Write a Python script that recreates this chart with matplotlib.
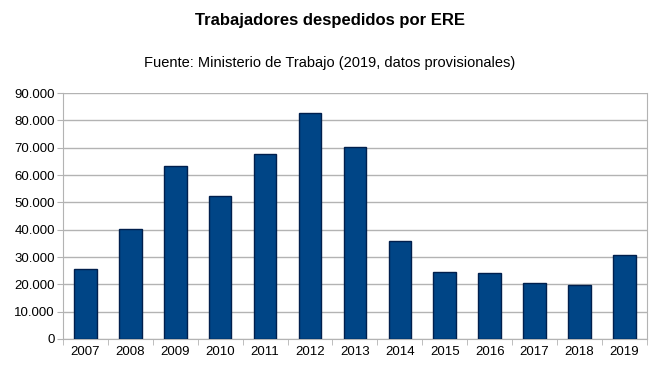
import matplotlib
matplotlib.use("Agg")
import matplotlib.pyplot as plt
from matplotlib.ticker import FuncFormatter, FixedLocator
import numpy as np

plt.rcParams['font.family'] = ['Liberation Sans', 'DejaVu Sans']

years = ['2007', '2008', '2009', '2010', '2011', '2012', '2013',
         '2014', '2015', '2016', '2017', '2018', '2019']
despedidos = [25600, 40400, 63300, 52400, 67800, 82800, 70300,
              35700, 24400, 24300, 20600, 19900, 30700]

title = 'Trabajadores despedidos por ERE'
subtitle = 'Fuente: Ministerio de Trabajo (2019, datos provisionales)'

fig = plt.figure(figsize=(6.6, 3.71), dpi=100)
ax = fig.add_axes([0.0955, 0.0863, 0.8845, 0.6627])

x = np.arange(len(years))
ax.bar(x, despedidos, width=0.5, color='#004586', edgecolor='#001f4d',
       linewidth=1, zorder=3)

ax.set_xlim(-0.5, len(years) - 0.5)
ax.set_ylim(0, 90000)
ax.set_yticks(np.arange(0, 90001, 10000))
ax.yaxis.set_major_formatter(FuncFormatter(lambda v, p: f'{int(v):,}'.replace(',', '.')))
ax.set_xticks(x)
ax.set_xticklabels(years)
ax.xaxis.set_minor_locator(FixedLocator(np.arange(-0.5, len(years), 1)))

ax.grid(axis='y', color='#b3b3b3', linewidth=1, zorder=0)
for s in ax.spines.values():
    s.set_color('#b3b3b3')
ax.spines['top'].set_visible(False)

ax.tick_params(axis='x', which='major', length=0, labelsize=9.5, pad=5)
ax.tick_params(axis='x', which='minor', length=4, color='#b3b3b3')
ax.tick_params(axis='y', length=4, color='#b3b3b3', labelsize=9.5, pad=2)

fig.text(0.5, 0.945, title, ha='center', va='center', fontsize=12, fontweight='bold')
fig.text(0.5, 0.83, subtitle, ha='center', va='center', fontsize=10.5)

fig.savefig('out.png', dpi=100)
